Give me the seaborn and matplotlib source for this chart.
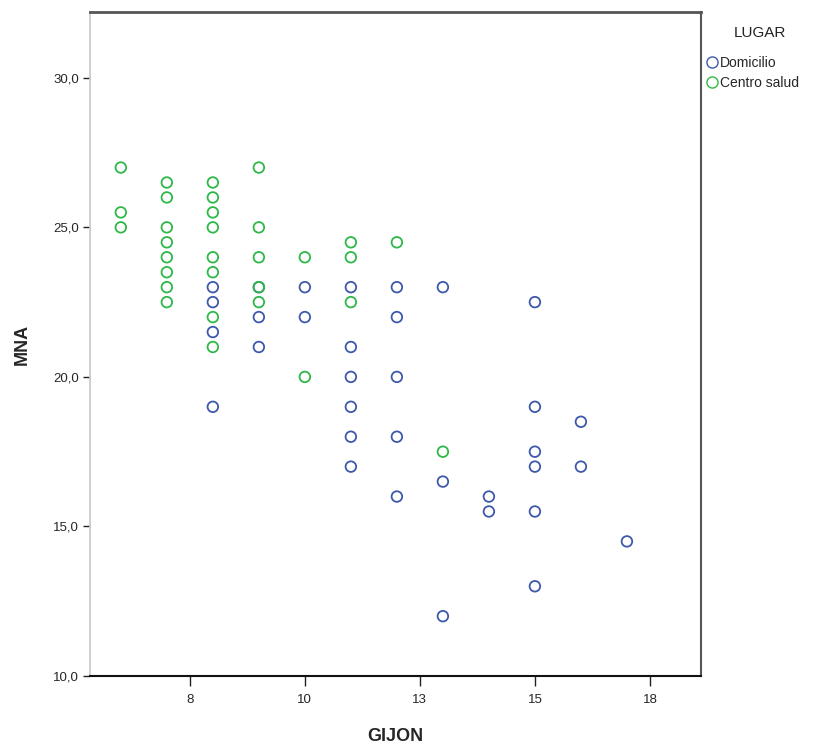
import matplotlib
matplotlib.use("Agg")
import matplotlib.pyplot as plt
from matplotlib.lines import Line2D
from matplotlib.ticker import FuncFormatter
import pandas as pd
import seaborn as sns

# GIJON score and MNA value, grouped by place of assessment (LUGAR)
domicilio_gijon = [8, 8, 8, 8,
                   9, 9, 9,
                   10, 10,
                   11, 11, 11, 11, 11, 11,
                   12, 12, 12, 12, 12,
                   13, 13, 13,
                   14, 14,
                   15, 15, 15, 15, 15, 15,
                   16, 16,
                   17]
domicilio_mna = [23.0, 22.5, 21.5, 19.0,
                 23.0, 22.0, 21.0,
                 23.0, 22.0,
                 23.0, 21.0, 20.0, 19.0, 18.0, 17.0,
                 23.0, 22.0, 20.0, 18.0, 16.0,
                 23.0, 16.5, 12.0,
                 16.0, 15.5,
                 22.5, 19.0, 17.5, 17.0, 15.5, 13.0,
                 18.5, 17.0,
                 14.5]

centro_gijon = [6, 6, 6,
                7, 7, 7, 7, 7, 7, 7, 7,
                8, 8, 8, 8, 8, 8, 8, 8,
                9, 9, 9, 9, 9,
                10, 10,
                11, 11, 11,
                12,
                13]
centro_mna = [27.0, 25.5, 25.0,
              26.5, 26.0, 25.0, 24.5, 24.0, 23.5, 23.0, 22.5,
              26.5, 26.0, 25.5, 25.0, 24.0, 23.5, 22.0, 21.0,
              27.0, 25.0, 24.0, 23.0, 22.5,
              24.0, 20.0,
              24.5, 24.0, 22.5,
              24.5,
              17.5]

groups = ["Domicilio", "Centro salud"]
group_colors = ["#3E58AC", "#2EB848"]

x_ticks = [7.5, 10, 12.5, 15, 17.5]
x_tick_labels = ["8", "10", "13", "15", "18"]
y_ticks = [10, 15, 20, 25, 30]

df = pd.DataFrame({
    "GIJON": domicilio_gijon + centro_gijon,
    "MNA": domicilio_mna + centro_mna,
    "LUGAR": [groups[0]] * len(domicilio_gijon) + [groups[1]] * len(centro_gijon),
})

sns.set_style("white")
plt.rcParams["font.family"] = ["Liberation Sans", "DejaVu Sans"]

fig = plt.figure(figsize=(8.21, 7.47), dpi=100)
ax = fig.add_axes([90 / 821, 71 / 747, 611 / 821, 664 / 747])

palette = dict(zip(groups, group_colors))
sns.scatterplot(data=df, x="GIJON", y="MNA", hue="LUGAR", hue_order=groups,
                palette=palette, s=58, linewidth=1.3, legend=False, ax=ax)

# hollow circles: move the hue colour to the edge
for coll in ax.collections:
    fc = coll.get_facecolors()
    coll.set_edgecolors(fc)
    coll.set_facecolors("none")
    coll.set_linewidths(1.3)

ax.set_xlim(5.33, 18.61)
ax.set_ylim(10, 32.2)
ax.set_xticks(x_ticks)
ax.set_xticklabels(x_tick_labels)
ax.set_yticks(y_ticks)
ax.yaxis.set_major_formatter(FuncFormatter(lambda v, p: f"{v:.1f}".replace(".", ",")))

ax.tick_params(axis="x", direction="out", length=7, width=1, color="#222222",
               labelsize=9.5, pad=6, bottom=True)
ax.tick_params(axis="y", direction="out", length=5, width=1, color="#222222",
               labelsize=9.5, pad=3, left=True)

ax.spines["left"].set_color("#c8c8c8")
ax.spines["left"].set_linewidth(1.2)
ax.spines["bottom"].set_color("#111111")
ax.spines["bottom"].set_linewidth(1.5)
ax.spines["top"].set_color("#555555")
ax.spines["top"].set_linewidth(2.0)
ax.spines["right"].set_color("#555555")
ax.spines["right"].set_linewidth(1.5)

ax.set_xlabel("GIJON", fontsize=13, fontweight="bold", labelpad=16)
ax.set_ylabel("MNA", fontsize=13, fontweight="bold", labelpad=16)

# legend outside the plot, title placed above the entries
fig.text(760 / 821, 1 - 33 / 747, "LUGAR", ha="center", va="center",
         fontsize=11, color="#222222")
handles = [Line2D([], [], linestyle="none", marker="o", markersize=8,
                  markerfacecolor="none", markeredgecolor=c, markeredgewidth=1.0)
           for c in group_colors]
leg = fig.legend(handles, groups, loc="upper left",
                 bbox_to_anchor=(706 / 821, 1 - 56 / 747), frameon=False,
                 fontsize=10, handlelength=0.8,
                 handletextpad=0.2, labelspacing=0.45, borderaxespad=0,
                 borderpad=0)

fig.savefig("out.png", dpi=100, facecolor="white")
